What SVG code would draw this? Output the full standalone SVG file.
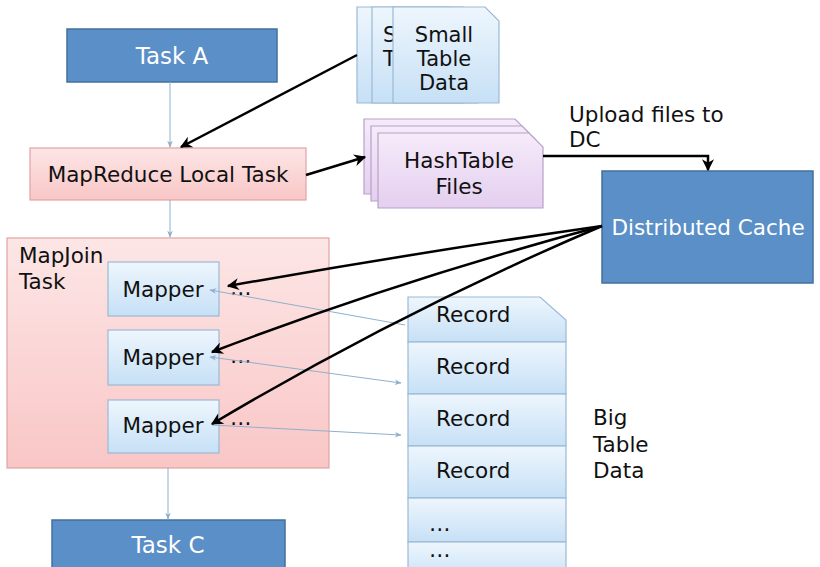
<svg xmlns="http://www.w3.org/2000/svg" width="820" height="567" viewBox="0 0 820 567">
<defs>
<linearGradient id="pink" x1="0" y1="0" x2="0" y2="1"><stop offset="0" stop-color="#fde6e6"/><stop offset="1" stop-color="#f9c6c6"/></linearGradient>
<linearGradient id="blueL" x1="0" y1="0" x2="0" y2="1"><stop offset="0" stop-color="#eef6fd"/><stop offset="1" stop-color="#c6e0f6"/></linearGradient>
<linearGradient id="lav" x1="0" y1="0" x2="0" y2="1"><stop offset="0" stop-color="#f6ebfa"/><stop offset="1" stop-color="#e4cfef"/></linearGradient>
<marker id="blk" viewBox="0 0 10 10" refX="9" refY="5" markerWidth="14" markerHeight="12" markerUnits="userSpaceOnUse" orient="auto">
<path d="M0,0 L10,5 L0,10 L3,5 z" fill="#000"/>
</marker>
<marker id="thin" viewBox="0 0 10 10" refX="9" refY="5" markerWidth="7" markerHeight="7" markerUnits="userSpaceOnUse" orient="auto-start-reverse">
<path d="M0,1 L10,5 L0,9 L3,5 z" fill="#8fb0cc"/>
</marker>
<style>
text{font-family:"DejaVu Sans","Open Sans",sans-serif;font-size:21.5px;fill:#111}
.w{fill:#fff}
.s{font-size:21px}
.big{font-size:23px}
.dk{fill:#5b8fc7;stroke:#41709e;stroke-width:1.5}
.pk{fill:url(#pink);stroke:#e0a3a3;stroke-width:1.2}
.bl{fill:url(#blueL);stroke:#9bb9d4;stroke-width:1.2}
.lv{fill:url(#lav);stroke:#b7a1c8;stroke-width:1.2}
.tc{stroke:#8fb0cc;stroke-width:1;fill:none}
.bc{stroke:#000;stroke-width:2.5;fill:none}
</style>
</defs>

<g id="taskA"><rect class="dk" x="67" y="29" width="210" height="53"/><text class="w big" x="172" y="64" text-anchor="middle">Task A</text></g>

<g id="smallTable">
<path class="bl" d="M357,7 H449 L463,21 V103 H357 Z"/>
<path class="bl" d="M372,7 H464 L478,21 V103 H372 Z"/>
<text class="s" x="383" y="42">S</text><text class="s" x="383" y="66">T</text>
<path class="bl" d="M393,7 H485 L499,21 V103 H393 Z"/>
<text class="s" x="444" y="42" text-anchor="middle">Small</text>
<text class="s" x="444" y="66" text-anchor="middle">Table</text>
<text class="s" x="444" y="90" text-anchor="middle">Data</text>
</g>

<g id="mrlt"><rect class="pk" x="30" y="148" width="276" height="52"/><text x="168" y="182" text-anchor="middle">MapReduce Local Task</text></g>

<g id="hashTable">
<path class="lv" d="M364,119 H515 L529,133 V194 H364 Z"/>
<path class="lv" d="M371,126 H522 L536,140 V201 H371 Z"/>
<path class="lv" d="M378,133 H529 L543,147 V208 H378 Z"/>
<text x="459" y="168" text-anchor="middle">HashTable</text>
<text x="459" y="194" text-anchor="middle">Files</text>
</g>

<g id="uploadLabel"><text x="569" y="122">Upload files to</text><text x="569" y="147">DC</text></g>

<g id="dc"><rect class="dk" x="602" y="171" width="211" height="112"/><text class="w" x="708" y="235" text-anchor="middle">Distributed Cache</text></g>

<g id="mapjoin">
<rect class="pk" x="7" y="238" width="322" height="230"/>
<text x="19" y="263">MapJoin</text><text x="19" y="289">Task</text>
</g>

<g id="mapper1"><rect class="bl" x="108" y="262" width="111" height="54"/><text x="163" y="297" text-anchor="middle">Mapper</text><text x="230" y="295">…</text></g>
<g id="mapper2"><rect class="bl" x="108" y="330" width="111" height="55"/><text x="163" y="365" text-anchor="middle">Mapper</text><text x="230" y="363">…</text></g>
<g id="mapper3"><rect class="bl" x="108" y="400" width="111" height="53"/><text x="163" y="433" text-anchor="middle">Mapper</text><text x="230" y="425">…</text></g>

<g id="records">
<path class="bl" d="M408,297 H540 L566,320 V342 H408 Z"/>
<rect class="bl" x="408" y="342" width="158" height="52"/>
<rect class="bl" x="408" y="394" width="158" height="52"/>
<rect class="bl" x="408" y="446" width="158" height="52"/>
<rect class="bl" x="408" y="498" width="158" height="44"/>
<rect class="bl" x="408" y="542" width="158" height="40"/>
<text x="436" y="322">Record</text>
<text x="436" y="374">Record</text>
<text x="436" y="426">Record</text>
<text x="436" y="478">Record</text>
<text x="429" y="531">…</text>
<text x="429" y="557">…</text>
</g>

<g id="bigLabel"><text x="593" y="425">Big</text><text x="593" y="452">Table</text><text x="593" y="478">Data</text></g>

<g id="taskC"><rect class="dk" x="52" y="520" width="233" height="60"/><text class="w big" x="168" y="553" text-anchor="middle">Task C</text></g>

<g id="connectors">
<line class="tc" x1="170" y1="82" x2="170" y2="147" marker-end="url(#thin)"/>
<line class="tc" x1="170" y1="200" x2="170" y2="237" marker-end="url(#thin)"/>
<line class="tc" x1="168" y1="468" x2="168" y2="519" marker-end="url(#thin)"/>
<line class="tc" x1="405" y1="325" x2="210" y2="290" marker-end="url(#thin)"/>
<line class="tc" x1="210" y1="357" x2="401" y2="383" marker-start="url(#thin)" marker-end="url(#thin)"/>
<line class="tc" x1="212" y1="425" x2="401" y2="435" marker-end="url(#thin)"/>
<line class="bc" x1="357" y1="55" x2="181" y2="147" marker-end="url(#blk)"/>
<line class="bc" x1="306" y1="175" x2="365" y2="157" marker-end="url(#blk)"/>
<polyline class="bc" points="543,156 708,156 708,170" marker-end="url(#blk)"/>
<path class="bc" d="M602,226 Q420,252 228,286" marker-end="url(#blk)"/>
<path class="bc" d="M602,226 Q400,280 212,352" marker-end="url(#blk)"/>
<path class="bc" d="M602,226 Q400,312 212,424" marker-end="url(#blk)"/>
</g>
</svg>
